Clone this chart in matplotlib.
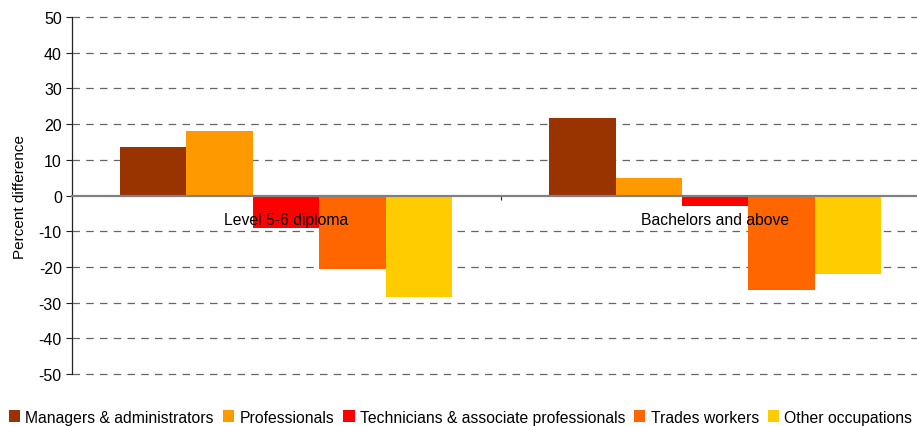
import matplotlib
matplotlib.use("Agg")
import matplotlib.pyplot as plt
import numpy as np

categories = ["Level 5-6 diploma", "Bachelors and above"]
series_names = ["Managers & administrators", "Professionals",
                "Technicians & associate professionals", "Trades workers",
                "Other occupations"]
managers = [13.7, 21.6]
professionals = [18.2, 4.8]
technicians = [-9.1, -3.0]
trades = [-20.6, -26.5]
other = [-28.5, -22.1]
colors = ["#993300", "#FF9900", "#FF0000", "#FF6600", "#FFCC00"]
yticks = list(range(-50, 51, 10))

plt.rcParams['font.family'] = ['Liberation Sans', 'DejaVu Sans']

fig = plt.figure(figsize=(9.17, 4.27), dpi=100)
ax = fig.add_axes([0.078, 0.1218, 0.936, 0.836])

x = np.arange(len(categories))
n = len(series_names)
group_w = 0.774
bw = group_w / n
data = [managers, professionals, technicians, trades, other]
handles = []
for i, (vals, c, name) in enumerate(zip(data, colors, series_names)):
    offs = -group_w / 2 + bw * (i + 0.5)
    h = ax.bar(x + offs, vals, width=bw, color=c, label=name, zorder=3)
    handles.append(h)

ax.set_xlim(-0.5, len(categories) - 0.5)
ax.set_ylim(-50, 50)
ax.set_yticks(yticks)
ax.set_yticklabels([str(t) for t in yticks], fontsize=11.5)
for t in yticks:
    if t != 0:
        ax.axhline(t, color="#666666", lw=0.9, linestyle=(0, (6, 5)),
                   zorder=1, clip_on=False)

for s in ["top", "right"]:
    ax.spines[s].set_visible(False)
ax.spines["left"].set_color("#222222")
ax.spines["left"].set_linewidth(0.9)
ax.spines["bottom"].set_position(("data", 0))
ax.spines["bottom"].set_color("#808080")
ax.spines["bottom"].set_linewidth(1.6)
ax.spines["bottom"].set_zorder(4)
ax.set_xticks([0.5])
ax.set_xticklabels([""])
ax.tick_params(axis="x", length=3, color="#222222", width=0.8)
ax.tick_params(axis="y", length=4, color="#222222", width=0.8, pad=3)

for xi, cat in zip(x, categories):
    ax.text(xi, -6.6, cat, ha="center", va="center", fontsize=11.3, zorder=5)

ax.set_ylabel("Percent difference", fontsize=11, labelpad=8)

leg = fig.legend(handles=handles, labels=series_names, loc="center left",
                 bbox_to_anchor=(0.010, 0.021), ncol=5, frameon=False,
                 fontsize=11.3, handlelength=0.72, handleheight=0.72,
                 handletextpad=0.32, columnspacing=0.58, borderaxespad=0,
                 borderpad=0)

fig.savefig("out.png", dpi=100)
